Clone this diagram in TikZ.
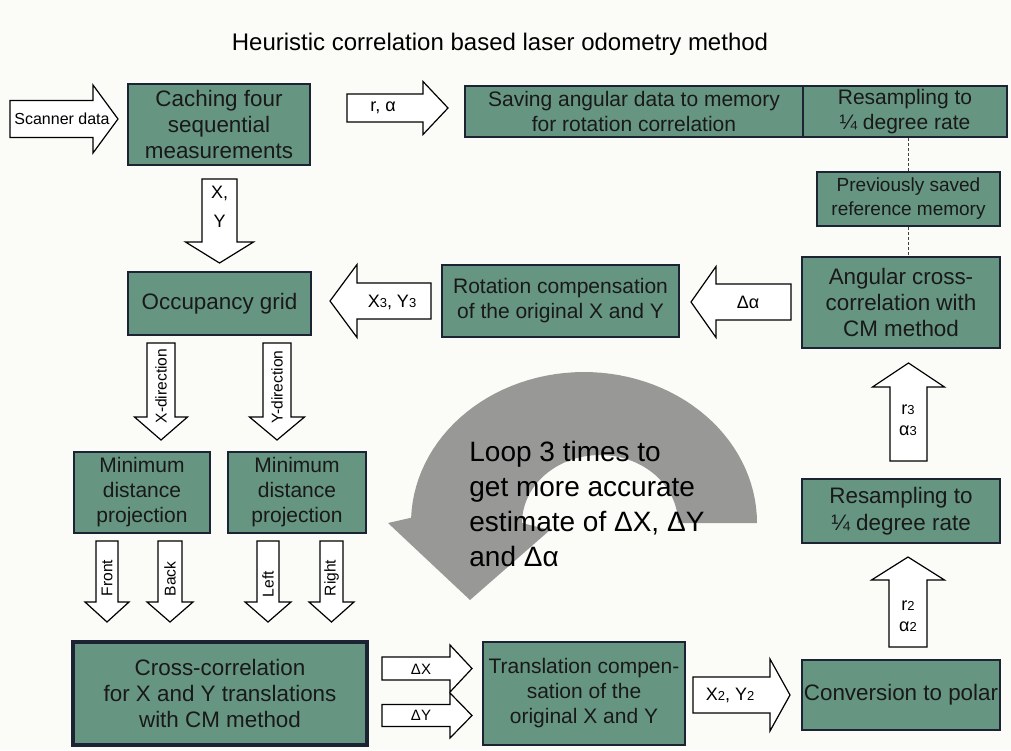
\documentclass[tikz,border=0pt]{standalone}
\usepackage{fontspec}
\setmainfont{Liberation Sans}
\usepackage{xcolor}
\usepackage{tikz}
\usetikzlibrary{calc}

\definecolor{boxfill}{RGB}{102,149,130}
\definecolor{boxline}{RGB}{28,36,52}
\definecolor{loopgray}{RGB}{152,152,150}
\definecolor{paper}{RGB}{251,251,248}

% small index digits (X3, r2, ...)
\newcommand{\idx}[1]{{\fontsize{6.5}{7}\selectfont #1}}

% block arrow: tail, direction, length, head length, half shaft, half head
\newcommand{\fatarrow}[6]{%
  \draw[fatarr, shift={#1}, rotate=#2]
    (0,-#5) -- ({#3-#4},-#5) -- ({#3-#4},-#6) -- (#3,0)
    -- ({#3-#4},#6) -- ({#3-#4},#5) -- (0,#5) -- cycle;}

\begin{document}
\begin{tikzpicture}[
  x=0.5pt, y=-0.5pt,
  % ── Style definitions ──
  stage/.style={
    rectangle, draw=boxline, fill=boxfill, line width=0.9pt,
    inner sep=0pt, align=center, text=black!90,
    font=\fontsize{10.5}{12.5}\selectfont
  },
  bigstage/.style  ={stage, font=\fontsize{11.2}{13.2}\selectfont},
  smallstage/.style={stage, font=\fontsize{9.5}{12}\selectfont},
  fatarr/.style ={draw=black, fill=white, line width=0.6pt, line join=miter},
  alab/.style   ={font=\fontsize{9}{10.5}\selectfont, inner sep=0pt, align=center},
  vlab/.style   ={font=\fontsize{7.8}{9}\selectfont, inner sep=0pt, rotate=90},
  memlink/.style={draw=black!75, line width=0.6pt, dash pattern=on 1.5pt off 1pt}
]
\fill[paper] (0,0) rectangle (1011,750);
\useasboundingbox (0,0) rectangle (1011,750);

\node[font=\fontsize{12}{14}\selectfont] (title) at (500,44)
  {Heuristic correlation based laser odometry method};

% ─────────── Loop arrow (behind everything) ─────────────────
\fill[loopgray] (757,523)
  -- plot[domain=0:178, samples=60, variable=\t] ({584+173*cos(\t)}, {523-151*sin(\t)})
  -- (388,523) -- (470,600) -- (550,530) -- (522,523)
  -- plot[domain=180:0, samples=50, variable=\t] ({600+78*cos(\t)}, {523-68*sin(\t)})
  -- cycle;
\node[font=\fontsize{14}{17.5}\selectfont, align=left, anchor=north west, inner sep=0pt]
  (loopnote) at (469,441) {Loop 3 times to\\get more accurate\\estimate of ΔX, ΔY\\and Δα};

% ─────────── Processing stages ──────────────────────────────
\node[bigstage, minimum width=91pt, minimum height=40.5pt]   (cache)   at (219,124.5)   {Caching four\\sequential\\measurements};
\node[stage, minimum width=169pt, minimum height=25.5pt]     (save)    at (634,111.5)   {Saving angular data to memory\\for rotation correlation};
\node[stage, minimum width=102pt, minimum height=25.5pt]     (resamp1) at (905,111.5)   {Resampling to\\¼ degree rate};
\node[smallstage, minimum width=91.5pt, minimum height=27pt] (prev)    at (908.5,199)   {Previously saved\\reference memory};
\node[bigstage, minimum width=99pt, minimum height=45.5pt]   (ang)     at (901,302.5)   {Angular cross-\\correlation with\\CM method};
\node[stage, minimum width=118.5pt, minimum height=36pt]     (rot)     at (560.5,301)   {Rotation compensation\\of the original X and Y};
\node[bigstage, minimum width=91.5pt, minimum height=31.5pt] (occ)     at (219.5,303.5) {Occupancy grid};
\node[stage, minimum width=68pt, minimum height=40.5pt]      (min1)    at (142,492.5)   {Minimum\\distance\\projection};
\node[stage, minimum width=69pt, minimum height=40.5pt]      (min2)    at (297,492.5)   {Minimum\\distance\\projection};
\node[bigstage, minimum width=99pt, minimum height=32pt]     (resamp2) at (901,511)     {Resampling to\\¼ degree rate};
\node[bigstage, minimum width=99pt, minimum height=35pt]     (conv)    at (901,695)     {Conversion to polar};
\node[bigstage, line width=1.6pt, minimum width=147pt, minimum height=51.5pt] (cross) at (220,693.5)
  {Cross-correlation\\for X and Y translations\\with CM method};
\node[stage, minimum width=101pt, minimum height=51.5pt]     (trans)   at (584,693.5)   {Translation compen-\\sation of the\\original X and Y};

% ─────────── Memory links (dashed) ──────────────────────────
\draw[memlink] (prev.north) -- (prev.north |- resamp1.south);
\draw[memlink] (prev.south) -- (prev.south |- ang.north);

% ─────────── Block arrows and their labels ──────────────────
\fatarrow{(10,119)}{0}{108}{25}{18.5}{34}
\node[alab, font=\fontsize{8}{9}\selectfont] (scanlab) at (62,119) {Scanner data};
\fatarrow{(347,108)}{0}{101}{25}{14}{26.5}
\node[alab] (ralab) at (383,108) {r, α};
\fatarrow{(219.5,179)}{-90}{84}{21}{17.5}{34}
\node[alab, font=\fontsize{9}{14.5}\selectfont] (xylab) at (219.5,207) {X,\\Y};
\fatarrow{(431,301)}{180}{101}{27}{18}{36.5}
\node[alab] (x3lab) at (392,302) {X\idx{3}, Y\idx{3}};
\fatarrow{(791,302)}{180}{100}{25}{18}{35.5}
\node[alab] (dalab) at (748,302) {Δα};

\fatarrow{(161,343)}{-90}{97}{23}{14}{26.5}
\node[vlab] (xdlab) at (161,386) {X-direction};
\fatarrow{(277,343)}{-90}{97}{23}{14}{27.5}
\node[vlab] (ydlab) at (277,387) {Y-direction};

\fatarrow{(107,541)}{-90}{81}{20}{11}{22}
\node[vlab] (frlab) at (107,578) {Front};
\fatarrow{(170,541)}{-90}{81}{20}{12}{23}
\node[vlab] (bklab) at (170,579) {Back};
\fatarrow{(268,541)}{-90}{81}{20}{11}{23}
\node[vlab] (lflab) at (268,584) {Left};
\fatarrow{(331.5,541)}{-90}{81}{20}{11.5}{22.5}
\node[vlab] (rtlab) at (331.5,578) {Right};

\fatarrow{(382,668.5)}{0}{90}{22}{11.5}{23.5}
\node[alab, font=\fontsize{7.5}{9}\selectfont] (dxlab) at (421,669) {ΔX};
\fatarrow{(382,715.5)}{0}{90}{22}{11}{22.5}
\node[alab, font=\fontsize{7.5}{9}\selectfont] (dylab) at (421,715) {ΔY};
\fatarrow{(693,695)}{0}{97}{20}{18}{36}
\node[alab] (x2lab) at (730,695) {X\idx{2}, Y\idx{2}};
\fatarrow{(908,647)}{90}{90}{23}{19}{36.5}
\node[alab] (r2lab) at (908,616) {r\idx{2}\\α\idx{2}};
\fatarrow{(908.5,461)}{90}{98}{24}{18.5}{36}
\node[alab] (r3lab) at (908,420) {r\idx{3}\\α\idx{3}};
\end{tikzpicture}
\end{document}
